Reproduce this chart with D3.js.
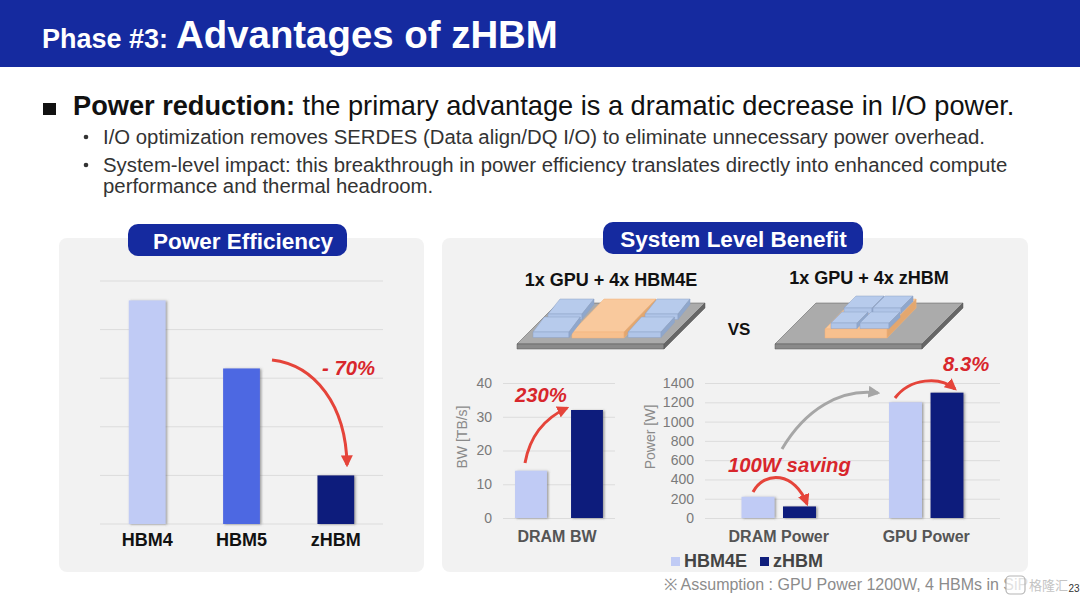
<!DOCTYPE html>
<html>
<head>
<meta charset="utf-8">
<script src="https://cdn.jsdelivr.net/npm/d3@7"></script>
<style>
  html, body { margin: 0; padding: 0; background: #fff; }
  svg { display: block; font-family: "Liberation Sans", Arial, sans-serif; }
</style>
</head>
<body>
<svg id="chart" width="1080" height="602"></svg>
<script>
// Power efficiency panel (relative, no axis labels in the source)
var effCategories = ["HBM4", "HBM5", "zHBM"];
var effValues = [4.6, 3.2, 1.0];
var effColors = ["#c0cbf5", "#4e67e2", "#101f7c"];
var effTicks = [0, 1, 2, 3, 4, 5];

// System level panel
var seriesNames = ["HBM4E", "zHBM"];
var seriesColors = ["#c0cbf5", "#101f7c"];
var bwCategories = ["DRAM BW"];
var bwHbm4e = [14];
var bwZhbm = [32];
var bwTicks = [0, 10, 20, 30, 40];
var powerCategories = ["DRAM Power", "GPU Power"];
var powerHbm4e = [220, 1200];
var powerZhbm = [120, 1300];
var powerTicks = [0, 200, 400, 600, 800, 1000, 1200, 1400];

var subBullets = [
  "I/O optimization removes SERDES (Data align/DQ I/O) to eliminate unnecessary power overhead.",
  "System-level impact: this breakthrough in power efficiency translates directly into enhanced compute",
  "performance and thermal headroom."
];

var navy = "#152a9f";
var red = "#e5443a";
var redText = "#d8262c";
var svg = d3.select("#chart");
var defs = svg.append("defs");

// soft shadow on the bars
var shadow = defs.append("filter").attr("id", "bar-shadow")
  .attr("x", "-20%").attr("y", "-10%").attr("width", "150%").attr("height", "120%");
shadow.append("feDropShadow").attr("dx", 1.5).attr("dy", 0.5)
  .attr("stdDeviation", 1).attr("flood-color", "#555").attr("flood-opacity", 0.55);

function addMarker(id, color) {
  defs.append("marker").attr("id", id)
    .attr("viewBox", "0 0 10 10").attr("refX", 8).attr("refY", 5)
    .attr("markerWidth", 12).attr("markerHeight", 12)
    .attr("markerUnits", "userSpaceOnUse")
    .attr("orient", "auto")
    .append("path").attr("d", "M0,0L10,5L0,10Z").attr("fill", color);
}
addMarker("arrow-red", red);
addMarker("arrow-grey", "#a6a6a6");

function label(x, y, str, size, opts) {
  opts = opts || {};
  return svg.append("text")
    .attr("x", x).attr("y", y).text(str)
    .attr("font-size", size)
    .attr("font-weight", opts.weight || "normal")
    .attr("font-style", opts.style || "normal")
    .attr("fill", opts.fill || "#111")
    .attr("text-anchor", opts.anchor || "start");
}

// Header
svg.append("rect").attr("width", 1080).attr("height", 67).attr("fill", navy);
label(42, 48, "Phase #3:", 27, { weight: "bold", fill: "#fff" });
label(176, 48, "Advantages of zHBM", 38.4, { weight: "bold", fill: "#fff" });

// Bullets
svg.append("rect").attr("x", 43).attr("y", 103).attr("width", 13).attr("height", 12).attr("fill", "#111");
var head = label(73, 115, "Power reduction:", 27.2, { weight: "bold" });
head.append("tspan").attr("font-weight", "normal").text(" the primary advantage is a dramatic decrease in I/O power.");
svg.selectAll(".dot").data([137, 165]).enter().append("circle")
  .attr("cx", 86).attr("cy", (d) => d).attr("r", 2.3).attr("fill", "#333");
label(103, 144, subBullets[0], 20.35, { fill: "#333" });
label(103, 172, subBullets[1], 20.35, { fill: "#333" });
label(103, 193, subBullets[2], 20.35, { fill: "#333" });

// Panels
svg.append("rect").attr("x", 59).attr("y", 238).attr("width", 365).attr("height", 334).attr("rx", 8).attr("fill", "#f2f2f2");
svg.append("rect").attr("x", 442).attr("y", 238).attr("width", 586).attr("height", 334).attr("rx", 8).attr("fill", "#f2f2f2");

svg.append("rect").attr("x", 128).attr("y", 224).attr("width", 219).attr("height", 32).attr("rx", 10).attr("fill", navy);
label(243, 249, "Power Efficiency", 22.5, { weight: "bold", fill: "#fff", anchor: "middle" });
svg.append("rect").attr("x", 603).attr("y", 222).attr("width", 260).attr("height", 32).attr("rx", 10).attr("fill", navy);
label(733.5, 247, "System Level Benefit", 22.5, { weight: "bold", fill: "#fff", anchor: "middle" });

// Power efficiency bars
var effX = d3.scaleBand().domain(effCategories).range([100, 383]).paddingInner(0.61).paddingOuter(0.305);
var effY = d3.scaleLinear().domain([0, 5]).range([524, 281]);

svg.append("g").selectAll("line").data(effTicks).enter().append("line")
  .attr("x1", 100).attr("x2", 383)
  .attr("y1", (d) => effY(d)).attr("y2", (d) => effY(d))
  .attr("stroke", "#dcdcdc");

svg.append("g").selectAll("rect").data(effValues).enter().append("rect")
  .attr("x", (d, i) => effX(effCategories[i]))
  .attr("y", (d) => effY(d))
  .attr("width", effX.bandwidth())
  .attr("height", (d) => effY(0) - effY(d))
  .attr("fill", (d, i) => effColors[i])
  .attr("filter", "url(#bar-shadow)");

effCategories.forEach(function (c) {
  label(effX(c) + effX.bandwidth() / 2, 546, c, 18, { weight: "bold", anchor: "middle" });
});

// Grouped chart with a left axis, used for both small charts
function groupedChart(cfg) {
  var x0 = d3.scaleBand().domain(cfg.categories).range(cfg.xRange);
  var x1 = d3.scaleBand().domain(seriesNames).range([0, x0.bandwidth()])
    .paddingInner(cfg.inner).paddingOuter(cfg.outer);
  var y = d3.scaleLinear().domain(cfg.domain).range([518, 383]);

  var axis = svg.append("g").attr("transform", "translate(" + cfg.xRange[0] + ",0)")
    .call(d3.axisLeft(y).tickValues(cfg.ticks).tickFormat(d3.format("d"))
      .tickSize(-(cfg.xRange[1] - cfg.xRange[0])).tickPadding(11));
  axis.select(".domain").remove();
  axis.selectAll(".tick line").attr("stroke", "#dcdcdc");
  axis.selectAll(".tick text").attr("font-size", 14).attr("fill", "#7a7a7a")
    .attr("font-family", "'Liberation Sans', Arial, sans-serif");

  [cfg.first, cfg.second].forEach(function (vals, s) {
    svg.append("g").selectAll("rect").data(vals).enter().append("rect")
      .attr("x", (d, i) => x0(cfg.categories[i]) + x1(seriesNames[s]))
      .attr("y", (d) => y(d))
      .attr("width", x1.bandwidth())
      .attr("height", (d) => y(0) - y(d))
      .attr("fill", seriesColors[s])
      .attr("filter", "url(#bar-shadow)");
  });

  cfg.categories.forEach(function (c) {
    label(x0(c) + x0.bandwidth() / 2 + cfg.labelShift, 542, c, 16, { weight: "bold", fill: "#555", anchor: "middle" });
  });

  svg.append("text")
    .attr("transform", "translate(" + cfg.titleX + ",437) rotate(-90)")
    .attr("text-anchor", "middle").attr("font-size", 14).attr("fill", "#8a8a8a")
    .text(cfg.title);
}

groupedChart({
  categories: bwCategories, first: bwHbm4e, second: bwZhbm, ticks: bwTicks, labelShift: -2,
  domain: [0, 40], xRange: [503, 615], inner: 0.43, outer: 0.215, title: "BW [TB/s]", titleX: 467
});
groupedChart({
  categories: powerCategories, first: powerHbm4e, second: powerZhbm, ticks: powerTicks, labelShift: 0,
  domain: [0, 1400], xRange: [705, 1000], inner: 0.205, outer: 0.88, title: "Power [W]", titleX: 655
});

// Legend
seriesNames.forEach(function (name, i) {
  var lx = [671, 760][i];
  svg.append("rect").attr("x", lx).attr("y", 557).attr("width", 9).attr("height", 9).attr("fill", seriesColors[i]);
  label(lx + 13, 567, name, 18, { weight: "bold", fill: "#444" });
});

// Chip sketches: box() draws a top face, front face and right face in the slide's skew
function box(x, y, w, depth, skew, h, colors, edge) {
  var g = svg.append("g").attr("stroke", edge).attr("stroke-width", 0.5);
  var sx = depth * skew;
  g.append("path").attr("fill", colors[0])
    .attr("d", "M" + [x, y] + "L" + [x + w, y] + "L" + [x + w + sx, y - depth] + "L" + [x + sx, y - depth] + "Z");
  g.append("path").attr("fill", colors[1])
    .attr("d", "M" + [x, y] + "L" + [x + w, y] + "L" + [x + w, y + h] + "L" + [x, y + h] + "Z");
  g.append("path").attr("fill", colors[2])
    .attr("d", "M" + [x + w, y] + "L" + [x + w + sx, y - depth] + "L" + [x + w + sx, y - depth + h] + "L" + [x + w, y + h] + "Z");
}
var memColors = ["#b7cbec", "#b0c5e8", "#8fa7cc"];
var gpuColors = ["#f9c99d", "#f7c08e", "#e3a76f"];
var baseColors = ["#ababab", "#8a8a8a", "#666666"];

function base(x) { box(x, 344, 147, 41, 1.0, 5, baseColors, "#555"); }
function mem(x, y, w, d, skew) { box(x, y, w, d, skew, 5.5, memColors, "#8fa3c4"); }
function gpu(x, y, w, d, h) { box(x, y, w, d, 0.97, h, gpuColors, "#f0b27a"); }

base(517);
gpu(572, 332, 52, 33, 6);
mem(548, 314, 34, 15, 0.8);
mem(533, 332, 36, 15, 0.75);
mem(645, 314, 33, 15, 0.8);
mem(628, 332, 33, 15, 0.9);

base(775);
gpu(825, 329, 62, 30, 9);
mem(844, 308, 28, 12, 1);
mem(873, 308, 28, 12, 1);
mem(831, 323, 26, 11, 1);
mem(860, 323, 29, 11, 1);

label(611, 286, "1x GPU + 4x HBM4E", 18, { weight: "bold", anchor: "middle" });
label(869, 284, "1x GPU + 4x zHBM", 18, { weight: "bold", anchor: "middle" });
label(739, 335, "VS", 17, { weight: "bold", anchor: "middle" });

// Annotation arrows
function arrow(d, color, marker, width) {
  svg.append("path").attr("d", d).attr("fill", "none")
    .attr("stroke", color).attr("stroke-width", width)
    .attr("marker-end", "url(#" + marker + ")");
}
arrow("M272,360C315,365 346,405 347,465", red, "arrow-red", 3);
arrow("M525,463C530,435 545,418 567,408", red, "arrow-red", 3);
arrow("M782,449C805,410 840,388 878,393", "#a6a6a6", "arrow-grey", 3);
arrow("M895,398C910,378 940,376 955,389", red, "arrow-red", 3);
arrow("M753,492C765,470 795,472 807,504", red, "arrow-red", 3);

label(322, 375, "- 70%", 20.3, { weight: "bold", style: "italic", fill: redText });
label(515, 402, "230%", 20.3, { weight: "bold", style: "italic", fill: redText });
label(728, 472, "100W saving", 20.3, { weight: "bold", style: "italic", fill: redText });
label(943, 371, "8.3%", 20.3, { weight: "bold", style: "italic", fill: redText });

// Footnote, with the repost watermark and page number next to its end
label(664, 590, "※ Assumption : GPU Power 1200W, 4 HBMs in SiP", 16, { fill: "#8c8c8c" });
svg.append("rect").attr("x", 1006).attr("y", 574).attr("width", 74).attr("height", 22).attr("fill", "#fff").attr("fill-opacity", 0.75);
svg.append("rect").attr("x", 1006).attr("y", 576).attr("width", 19).attr("height", 18).attr("rx", 4)
  .attr("fill", "none").attr("stroke", "#b5b5b5").attr("stroke-width", 1.2);
svg.append("text").attr("x", 1029).attr("y", 590).attr("font-size", 13).attr("fill", "#c4c4c4")
  .attr("font-family", "'Noto Sans CJK SC'").text("格隆汇");
label(1068.5, 592, "23", 10, { fill: "#333" });
</script>
</body>
</html>
